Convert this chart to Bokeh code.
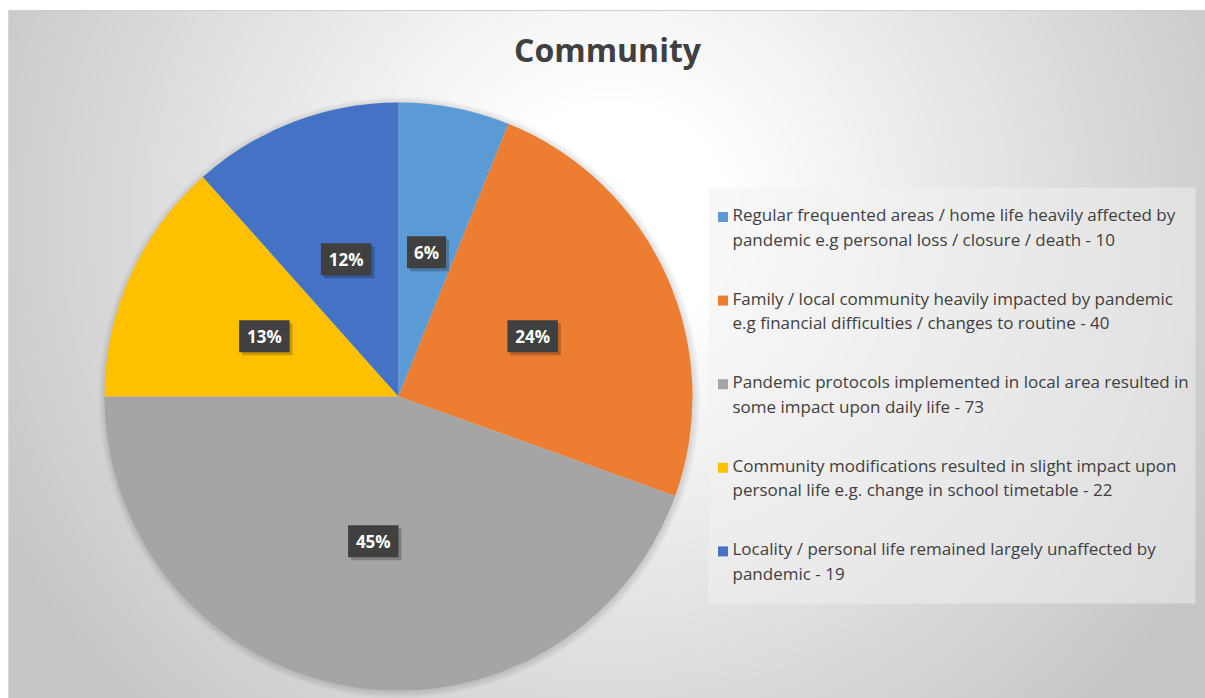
import numpy as np
from bokeh.plotting import figure
from bokeh.models import Range1d, ColumnDataSource
from bokeh.core.properties import value
from bokeh.embed import file_html
from bokeh.resources import INLINE

# ---- data ----
title = "Community"
labels = [
    "Regular frequented areas / home life heavily affected by\npandemic e.g personal loss / closure / death - 10",
    "Family / local community heavily impacted by pandemic\ne.g financial difficulties / changes to routine - 40",
    "Pandemic protocols implemented in local area resulted in\nsome impact upon daily life - 73",
    "Community modifications resulted in slight impact upon\npersonal life e.g. change in school timetable - 22",
    "Locality / personal life remained largely unaffected by\npandemic - 19",
]
counts = [10, 40, 73, 22, 19]
colors = ["#5B9BD5", "#ED7D31", "#A5A5A5", "#FFC000", "#4472C4"]

W, H = 1205, 698
p = figure(width=W, height=H, output_backend="svg", toolbar_location=None,
           x_range=Range1d(0, W), y_range=Range1d(0, H),
           min_border=0, outline_line_color=None)
p.axis.visible = False
p.grid.visible = False
p.background_fill_color = "white"
p.border_fill_color = "white"


def Y(yp):
    return H - yp


# ---- background radial gradient (styling) ----
x0, ytop = 8, 10
gw, gh = (W - x0) // 2, (H - ytop) // 2
yy, xx = np.mgrid[0:gh, 0:gw]
px = x0 + xx * 2.0
pyp = H - yy * 2.0  # page y (row 0 = bottom)
cx, cy = 610, 220
d = np.sqrt((px - cx) ** 2 + (pyp - cy) ** 2)
g = 255 - 0.1 * np.clip(d - 120, 0, None)
g = np.clip(g, 198, 255).astype(np.uint32)
img = (255 << 24) | (g << 16) | (g << 8) | g
p.image_rgba(image=[img.astype(np.uint32)], x=x0, y=0, dw=W - x0, dh=H - ytop)
p.segment(x0=x0, y0=Y(ytop), x1=W, y1=Y(ytop), line_color="#d0d0d0", line_width=1)
p.segment(x0=x0, y0=0, x1=x0, y1=Y(ytop), line_color="#d8d8d8", line_width=1)

# ---- pie ----
pcx, pcy, R = 398, Y(396), 294
total = float(sum(counts))
fr = np.array(counts) / total
ends = np.pi / 2 - 2 * np.pi * np.cumsum(fr)
starts = np.concatenate([[np.pi / 2], ends[:-1]])
mids = (starts + ends) / 2

# soft shadow ring
for k in range(1, 8):
    p.circle(x=pcx + 1, y=pcy - 1, radius=R + k, fill_color="black",
             fill_alpha=0.016, line_color=None)

pct = ["%d%%" % round(f * 100) for f in fr]
src = ColumnDataSource(dict(start=ends, end=starts, color=colors,
                            lx=pcx + 0.5 * R * np.cos(mids),
                            ly=pcy + 0.5 * R * np.sin(mids),
                            pct=pct))
p.wedge(x=pcx, y=pcy, radius=R, start_angle="start", end_angle="end",
        fill_color="color", line_color=None, source=src)

# data label boxes with shadow
src.data["sx"] = src.data["lx"] + 3
src.data["sy"] = src.data["ly"] - 3
src.data["bw"] = [11.5 * len(s) + 16 for s in pct]
p.rect(x="sx", y="sy", width="bw", height=32, fill_color="black", fill_alpha=0.22,
       line_color=None, source=src)
p.rect(x="lx", y="ly", width="bw", height=32, fill_color="#404040",
       line_color=None, source=src)
p.text(x="lx", y="ly", text="pct", text_align="center", text_baseline="middle",
       text_color="white", text_font=value("Open Sans"), text_font_style="bold",
       text_font_size="17px", source=src)

# ---- title ----
p.text(x=[607], y=[Y(49)], text=[title], text_align="center",
       text_baseline="alphabetic", text_color="#404040",
       text_font=value("Open Sans"), text_font_style="bold", text_font_size="32px")

# ---- legend ----
p.quad(left=708, right=1195, bottom=Y(603), top=Y(187), fill_color="#f2f2f2",
       fill_alpha=0.5, line_color=None)
n = len(labels)
base1 = np.array([Y(220 + 83.6 * i) for i in range(n)])
line1 = [s.split("\n")[0] for s in labels]
line2 = [s.split("\n")[1] for s in labels]
p.scatter(x=722.5, y=base1 + 3.5, marker="square", size=10, fill_color=colors,
          line_color=None)
for lines, yb in ((line1, base1 + 6), (line2, base1 + 6 - 24.5)):
    p.text(x=732, y=yb, text=lines, text_align="left", text_baseline="alphabetic",
           text_color="#404040", text_font=value("Open Sans"), text_font_size="17px")

open("out.html", "w").write(file_html(p, INLINE))
